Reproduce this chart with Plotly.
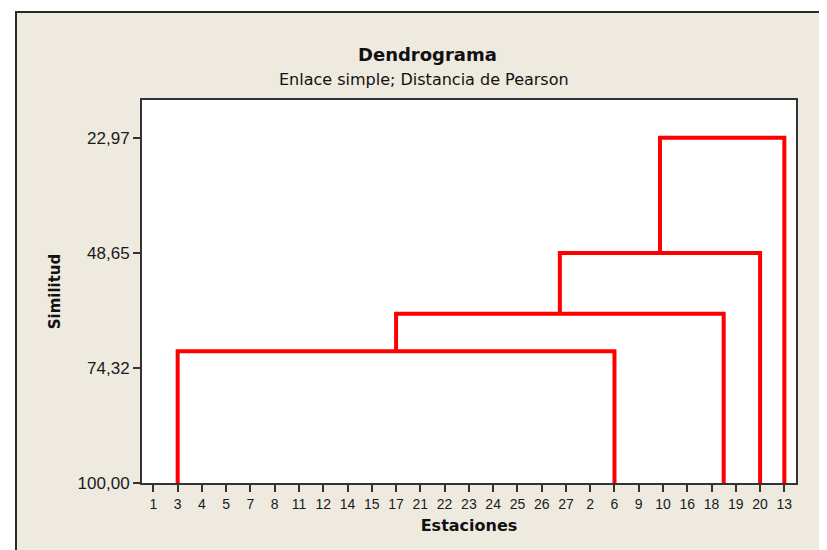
import plotly.graph_objects as go

# ---- data ----
stations = ["1", "3", "4", "5", "7", "8", "11", "12", "14", "15", "17", "21", "22", "23",
            "24", "25", "26", "27", "2", "6", "9", "10", "16", "18", "19", "20", "13"]
# merges: left node, right node (station label, "a|b" group of stations, or "m<k>" = k-th merge)
link_left = ["3", "m0", "m1", "m2"]
link_right = ["6", "18|19", "20", "13"]
link_height = [70.58, 62.2, 48.65, 22.97]
y_ticks = [22.97, 48.65, 74.32, 100.00]
y_tick_labels = ["22,97", "48,65", "74,32", "100,00"]
leaf_height = 100.0

# ---- build dendrogram segments ----
pos = {s: i for i, s in enumerate(stations)}
merge_xy = []


def node_xy(n):
    if n.startswith("m"):
        return merge_xy[int(n[1:])]
    parts = n.split("|")
    return sum(pos[p] for p in parts) / len(parts), leaf_height


xs, ys = [], []
for l, r, h in zip(link_left, link_right, link_height):
    lx, ly = node_xy(l)
    rx, ry = node_xy(r)
    xs += [lx, lx, rx, rx, None]
    ys += [ly, h, h, ry, None]
    merge_xy.append(((lx + rx) / 2, h))

fig = go.Figure()
fig.add_trace(go.Scatter(x=xs, y=ys, mode="lines",
                         line=dict(color="#FF0000", width=4),
                         hoverinfo="skip", showlegend=False))

# layout geometry (screen pixels; page body has an 8px margin)
OFF = 8
W, H = 819, 542
SL, ST, SR, SB = 142, 100, 796, 483   # plot area on screen
L, T = SL - OFF, ST - OFF
R, B = W - (SR - OFF), H - (SB - OFF)
pw, ph = W - L - R, H - T - B


def px_x(p):
    return (p - SL) / pw


def px_y(p):
    return (SB - p) / ph


fig.update_layout(
    width=W, height=H,
    margin=dict(l=L, r=R, t=T, b=B, autoexpand=False),
    paper_bgcolor="white",
    plot_bgcolor="white",
    font=dict(family="Liberation Sans, Arial, sans-serif", color="#1a1a1a"),
    showlegend=False,
    shapes=[
        dict(type="rect", xref="paper", yref="paper", layer="below",
             x0=px_x(16), x1=px_x(900), y0=px_y(12), y1=px_y(620),
             fillcolor="#EEEAE0", line=dict(color="#2a2a2a", width=2)),
        dict(type="rect", xref="paper", yref="paper", layer="below",
             x0=0, x1=1, y0=0, y1=1, fillcolor="white", line=dict(width=0)),
    ],
    annotations=[
        dict(text="<b>Dendrograma</b>", xref="paper", yref="paper",
             x=px_x(427), y=px_y(55), xanchor="center", yanchor="middle",
             showarrow=False,
             font=dict(family="DejaVu Sans", size=18, color="#111")),
        dict(text="Enlace simple; Distancia de Pearson", xref="paper", yref="paper",
             x=px_x(424), y=px_y(79), xanchor="center", yanchor="middle",
             showarrow=False,
             font=dict(family="DejaVu Sans", size=16, color="#111")),
    ],
)

fig.update_xaxes(
    automargin=False,
    range=[-0.47, 26.48],
    tickmode="array",
    tickvals=list(range(len(stations))),
    ticktext=stations,
    ticks="outside", ticklen=7, tickwidth=1.5, tickcolor="#333",
    tickfont=dict(family="Liberation Sans", size=14, color="#1a1a1a"),
    showline=True, linecolor="#333", linewidth=2, mirror=True,
    showgrid=False, zeroline=False,
    title=dict(text="<b>Estaciones</b>", standoff=9,
               font=dict(family="DejaVu Sans", size=16, color="#111")),
)
fig.update_yaxes(
    automargin=False,
    range=[100, 14.52],
    tickmode="array",
    tickvals=y_ticks,
    ticktext=y_tick_labels,
    ticks="outside", ticklen=7, tickwidth=1.5, tickcolor="#333",
    tickfont=dict(family="Liberation Sans", size=17, color="#1a1a1a"),
    showline=True, linecolor="#333", linewidth=2, mirror=True,
    showgrid=False, zeroline=False,
    title=dict(text="<b>Similitud</b>", standoff=13,
               font=dict(family="DejaVu Sans", size=15, color="#111")),
)

fig.write_html("out.html")
